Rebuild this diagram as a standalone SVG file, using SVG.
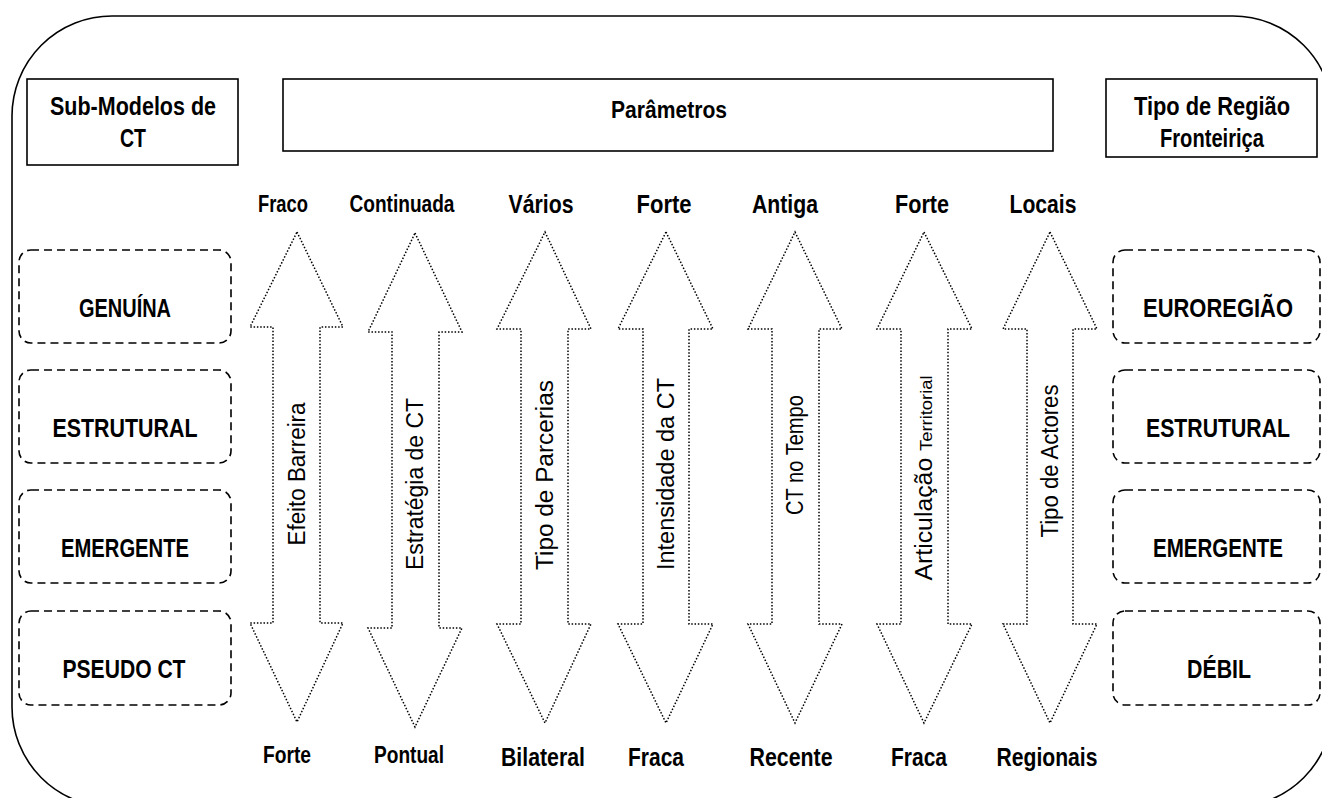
<svg xmlns="http://www.w3.org/2000/svg" width="1322" height="798" viewBox="0 0 1322 798">
<style>
.frame{fill:none;stroke:#000;stroke-width:1.6}
.hbox{fill:#fff;stroke:#000;stroke-width:1.6}
.dbox{fill:none;stroke:#000;stroke-width:1.6;stroke-dasharray:8 5}
.arr{fill:none;stroke:#000;stroke-width:1.5;stroke-dasharray:1.5 1.8}
.t{font-family:"Liberation Sans Narrow","Arial Narrow","Liberation Sans",Arial,sans-serif;font-weight:bold;fill:#000;text-anchor:middle}
.r{font-family:"Liberation Sans",Arial,sans-serif;font-size:23px;fill:#000;text-anchor:middle}
</style>
<rect width="1322" height="798" fill="#fff"/>
<rect class="frame" x="12" y="16" width="1321" height="791" rx="100" ry="100"/>

<g id="hdr-left">
<rect class="hbox" x="27" y="79" width="211" height="86"/>
<text class="t" font-size="25" x="133" y="115" textLength="166" lengthAdjust="spacingAndGlyphs">Sub-Modelos de</text>
<text class="t" font-size="25" x="133" y="147" textLength="26" lengthAdjust="spacingAndGlyphs">CT</text>
</g>
<g id="hdr-param">
<rect class="hbox" x="283" y="79" width="770" height="72"/>
<text class="t" font-size="24" x="669" y="118" textLength="116" lengthAdjust="spacingAndGlyphs">Parâmetros</text>
</g>
<g id="hdr-right">
<rect class="hbox" x="1106" y="79" width="211" height="78"/>
<text class="t" font-size="25" x="1212" y="115" textLength="156" lengthAdjust="spacingAndGlyphs">Tipo de Região</text>
<text class="t" font-size="25" x="1212" y="147" textLength="104" lengthAdjust="spacingAndGlyphs">Fronteiriça</text>
</g>

<g id="left-boxes">
<g id="genuina"><rect class="dbox" x="19" y="250" width="212" height="93" rx="12"/>
<text class="t" font-size="25" x="125" y="317" textLength="92" lengthAdjust="spacingAndGlyphs">GENUÍNA</text></g>
<g id="estrutural-l"><rect class="dbox" x="19" y="370" width="212" height="93" rx="12"/>
<text class="t" font-size="25" x="125" y="437" textLength="145" lengthAdjust="spacingAndGlyphs">ESTRUTURAL</text></g>
<g id="emergente-l"><rect class="dbox" x="19" y="490" width="212" height="93" rx="12"/>
<text class="t" font-size="25" x="125" y="557" textLength="128" lengthAdjust="spacingAndGlyphs">EMERGENTE</text></g>
<g id="pseudo"><rect class="dbox" x="19" y="611" width="212" height="94" rx="12"/>
<text class="t" font-size="25" x="124" y="678" textLength="123" lengthAdjust="spacingAndGlyphs">PSEUDO CT</text></g>
</g>

<g id="right-boxes">
<g id="euroregiao"><rect class="dbox" x="1113" y="250" width="207" height="93" rx="12"/>
<text class="t" font-size="25" x="1218" y="317" textLength="150" lengthAdjust="spacingAndGlyphs">EUROREGIÃO</text></g>
<g id="estrutural-r"><rect class="dbox" x="1113" y="370" width="207" height="93" rx="12"/>
<text class="t" font-size="25" x="1218" y="437" textLength="144" lengthAdjust="spacingAndGlyphs">ESTRUTURAL</text></g>
<g id="emergente-r"><rect class="dbox" x="1113" y="490" width="207" height="93" rx="12"/>
<text class="t" font-size="25" x="1218" y="557" textLength="130" lengthAdjust="spacingAndGlyphs">EMERGENTE</text></g>
<g id="debil"><rect class="dbox" x="1113" y="611" width="207" height="94" rx="12"/>
<text class="t" font-size="25" x="1219" y="678" textLength="64" lengthAdjust="spacingAndGlyphs">DÉBIL</text></g>
</g>

<g id="connectors">
<polygon class="arr" points="297,232 343,327 320,327 320,623 343,623 297,722 250,623 273,623 273,327 250,327"/>
<polygon class="arr" points="415,233 462,332 439,332 439,628 462,628 415,727 368,628 392,628 392,332 368,332"/>
<polygon class="arr" points="545,232 591,329 568,329 568,624 591,624 545,723 497,624 521,624 521,329 497,329"/>
<polygon class="arr" points="666,232 713,329 689,329 689,624 713,624 666,723 618,624 643,624 643,329 618,329"/>
<polygon class="arr" points="795,232 842,329 819,329 819,624 842,624 795,723 748,624 772,624 772,329 748,329"/>
<polygon class="arr" points="924,232 972,329 948,329 948,624 972,624 924,723 877,624 901,624 901,329 877,329"/>
<polygon class="arr" points="1050,232 1097,329 1073,329 1073,624 1097,624 1050,723 1003,624 1027,624 1027,329 1003,329"/>
</g>

<g id="arrow-labels">
<text class="r" transform="translate(305,474) rotate(-90)" textLength="143" lengthAdjust="spacingAndGlyphs">Efeito Barreira</text>
<text class="r" transform="translate(423,484) rotate(-90)" textLength="172" lengthAdjust="spacingAndGlyphs">Estratégia de CT</text>
<text class="r" transform="translate(553,475) rotate(-90)" textLength="190" lengthAdjust="spacingAndGlyphs">Tipo de Parcerias</text>
<text class="r" transform="translate(674,474) rotate(-90)" textLength="192" lengthAdjust="spacingAndGlyphs">Intensidade da CT</text>
<text class="r" transform="translate(803,455) rotate(-90)" textLength="120" lengthAdjust="spacingAndGlyphs">CT no Tempo</text>
<text class="r" transform="translate(932,478) rotate(-90)" textLength="205" lengthAdjust="spacingAndGlyphs">Articulação <tspan font-size="17">Territorial</tspan></text>
<text class="r" transform="translate(1058,461) rotate(-90)" textLength="153" lengthAdjust="spacingAndGlyphs">Tipo de Actores</text>
</g>

<g id="top-labels">
<text class="t" font-size="23" x="283" y="212" textLength="50" lengthAdjust="spacingAndGlyphs">Fraco</text>
<text class="t" font-size="23" x="402" y="212" textLength="105" lengthAdjust="spacingAndGlyphs">Continuada</text>
<text class="t" font-size="25" x="541" y="213" textLength="65" lengthAdjust="spacingAndGlyphs">Vários</text>
<text class="t" font-size="25" x="664" y="213" textLength="55" lengthAdjust="spacingAndGlyphs">Forte</text>
<text class="t" font-size="25" x="785" y="213" textLength="66" lengthAdjust="spacingAndGlyphs">Antiga</text>
<text class="t" font-size="25" x="922" y="213" textLength="54" lengthAdjust="spacingAndGlyphs">Forte</text>
<text class="t" font-size="25" x="1043" y="213" textLength="67" lengthAdjust="spacingAndGlyphs">Locais</text>
</g>

<g id="bottom-labels">
<text class="t" font-size="23" x="287" y="763" textLength="48" lengthAdjust="spacingAndGlyphs">Forte</text>
<text class="t" font-size="23" x="409" y="763" textLength="70" lengthAdjust="spacingAndGlyphs">Pontual</text>
<text class="t" font-size="25" x="543" y="766" textLength="84" lengthAdjust="spacingAndGlyphs">Bilateral</text>
<text class="t" font-size="25" x="656" y="766" textLength="56" lengthAdjust="spacingAndGlyphs">Fraca</text>
<text class="t" font-size="25" x="791" y="766" textLength="83" lengthAdjust="spacingAndGlyphs">Recente</text>
<text class="t" font-size="25" x="919" y="766" textLength="56" lengthAdjust="spacingAndGlyphs">Fraca</text>
<text class="t" font-size="25" x="1047" y="766" textLength="101" lengthAdjust="spacingAndGlyphs">Regionais</text>
</g>
</svg>
